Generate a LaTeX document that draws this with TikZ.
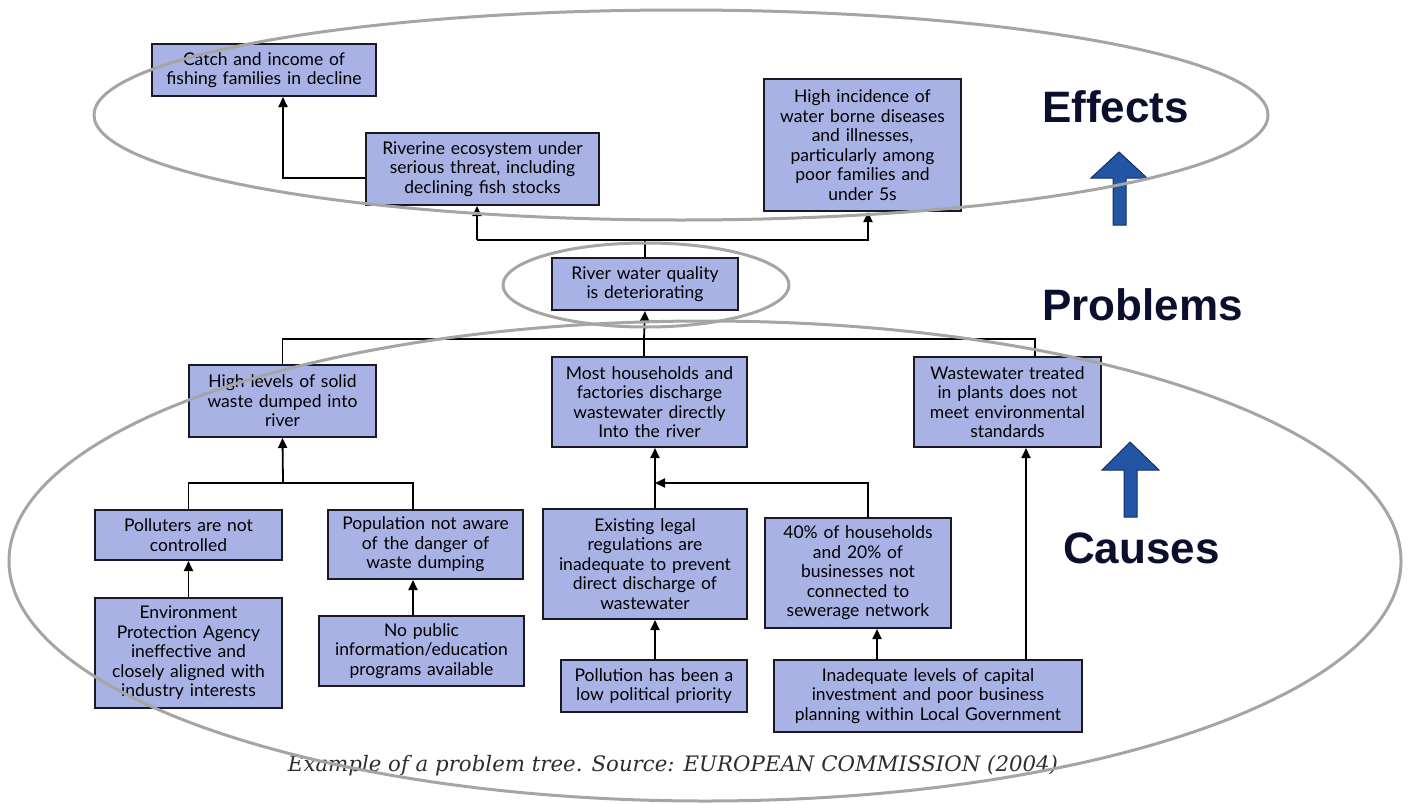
\documentclass[tikz,border=0pt]{standalone}
\usepackage{fontspec}
\setmainfont{Lato}
\newfontfamily\headfont{Liberation Sans}
\newfontfamily\capfont{DejaVu Serif}
\usetikzlibrary{arrows.meta}
\definecolor{boxfill}{RGB}{168,178,228}
\definecolor{boxline}{RGB}{25,25,40}
\definecolor{ringgray}{RGB}{165,165,165}
\definecolor{headblue}{RGB}{10,15,45}
\definecolor{arrowblue}{RGB}{35,85,165}
\definecolor{arrowedge}{RGB}{20,45,110}
\definecolor{captext}{RGB}{45,45,45}
\begin{document}
\begin{tikzpicture}[x=1pt,y=-1pt,
  box/.style={draw=boxline, line width=2pt, fill=boxfill, inner sep=0pt, align=center, text=black,
    font=\fontsize{17.5pt}{19.5pt}\selectfont},
  conn/.style={line width=1.8pt, draw=black},
  arr/.style={conn, -{Triangle[length=10pt,width=9pt]}},
  ring/.style={draw=ringgray, line width=3pt},
  head/.style={font=\headfont\bfseries\fontsize{44pt}{48pt}\selectfont, text=headblue, inner sep=0pt, anchor=base west},
  bigarrow/.style={fill=arrowblue, draw=arrowedge, line width=1pt}]
\useasboundingbox (0,0) rectangle (1412,803);

% ---------- boxes ----------
\node[box, minimum width=224pt, minimum height=52pt, text width=218pt] (catch) at (264,70)
  {Catch and income of\\fishing families in decline};
\node[box, minimum width=233pt, minimum height=72pt, text width=225pt] (riv) at (482.5,169)
  {Riverine ecosystem under\\serious threat, including\\declining fish stocks};
\node[box, minimum width=197pt, minimum height=132pt, text width=191pt] (high) at (862.5,145)
  {High incidence of\\water borne diseases\\and illnesses,\\particularly among\\poor families and\\under 5s};
\node[box, minimum width=186pt, minimum height=52pt, text width=178pt] (river) at (645,284)
  {River water quality\\is deteriorating};
\node[box, minimum width=187pt, minimum height=72pt, text width=179pt] (solid) at (282.5,401)
  {High levels of solid\\waste dumped into\\river};
\node[box, minimum width=195pt, minimum height=90pt, text width=189pt] (most) at (649.5,402)
  {Most households and\\factories discharge\\wastewater directly\\Into the river};
\node[box, minimum width=187pt, minimum height=90pt, text width=181pt] (waste) at (1007.5,402)
  {Wastewater treated\\in plants does not\\meet environmental\\standards};
\node[box, minimum width=187pt, minimum height=50pt, text width=179pt] (poll) at (188.5,535)
  {Polluters are not\\controlled};
\node[box, minimum width=195pt, minimum height=69pt, text width=189pt] (popu) at (425.5,544.5)
  {Population not aware\\of the danger of\\waste dumping};
\node[box, minimum width=187pt, minimum height=110pt, text width=181pt] (env) at (188.5,653)
  {Environment\\Protection Agency\\ineffective and\\closely aligned with\\industry interests};
\node[box, minimum width=205pt, minimum height=70pt, text width=199pt] (nopub) at (421.5,651)
  {No public\\information/education\\programs available};
\node[box, minimum width=204pt, minimum height=110pt, text width=198pt] (exist) at (645,564)
  {Existing legal\\regulations are\\inadequate to prevent\\direct discharge of\\wastewater};
\node[box, minimum width=186pt, minimum height=110pt, text width=180pt] (forty) at (858,573)
  {40\% of households\\and 20\% of\\businesses not\\connected to\\sewerage network};
\node[box, minimum width=186pt, minimum height=52pt, text width=180pt] (pollu) at (654,686)
  {Pollution has been a\\low political priority};
\node[box, minimum width=308pt, minimum height=72pt, text width=302pt] (inad) at (928,696)
  {Inadequate levels of capital\\investment and poor business\\planning within Local Government};

% ---------- junction coordinates ----------
\coordinate (jE) at (477,240);
\coordinate (jC) at (644,339);
\coordinate (jS) at (283,483);
\coordinate (xP) at (413,0);
\coordinate (jM) at (655,483);
\coordinate (xF) at (877,0);
\coordinate (xW) at (1026,0);
\coordinate (xCatch) at (283,0);
\coordinate (xHigh) at (868,0);
\coordinate (xWt) at (1035,0);

% ---------- connectors ----------
\draw[arr] ([yshift=-9pt]riv.west) -| (catch.south -| xCatch);
\draw[conn] (river.north) -- (river.north |- jE);
\draw[arr] (jE) -- (jE |- riv.south);
\draw[arr] (jE) -| (high.south -| xHigh);

\draw[arr] (jC) -- (river.south);
\draw[conn] (solid.north) |- (jC);
\draw[conn] (jC) -- (jC |- most.north);
\draw[conn] (jC) -| (waste.north -| xWt);

\draw[arr] (jS) -- (solid.south);
\draw[conn] (poll.north) |- (jS) -| (popu.north -| xP);
\draw[arr] (env.north) -- (poll.south);
\draw[arr] (nopub.north -| xP) -- (popu.south -| xP);

\draw[arr] (exist.north -| jM) -- (most.south -| jM);
\draw[arr] ([xshift=10pt]forty.north) |- (jM);
\draw[arr] (pollu.north -| jM) -- (exist.south -| jM);
\draw[arr] (inad.north -| xF) -- (forty.south -| xF);
\draw[arr] (inad.north -| xW) -- (waste.south -| xW);

% ---------- side labels ----------
\node[head] (effects) at (1042,122) {Effects};
\node[head] (problems) at (1042,320) {Problems};
\node[head] (causes) at (1063,563) {Causes};

\draw[bigarrow] (1119,152) -- (1147,178) -- (1126,178) -- (1126,225) -- (1113,225) -- (1113,178) -- (1091,178) -- cycle;
\draw[bigarrow] (1130,442) -- (1159,470) -- (1137,470) -- (1137,517) -- (1124,517) -- (1124,470) -- (1102,470) -- cycle;

% ---------- caption ----------
\node[font=\capfont\itshape\fontsize{21.3pt}{25pt}\selectfont, text=captext, inner sep=0pt, anchor=base] (caption) at (673,771)
  {Example of a problem tree. Source: EUROPEAN COMMISSION (2004)};

% ---------- rings ----------
\draw[ring] (681,115) ellipse [x radius=587pt, y radius=105pt];
\draw[ring] (646,285) ellipse [x radius=143pt, y radius=42pt];
\draw[ring] (705,561) ellipse [x radius=696pt, y radius=240pt];
\end{tikzpicture}
\end{document}
